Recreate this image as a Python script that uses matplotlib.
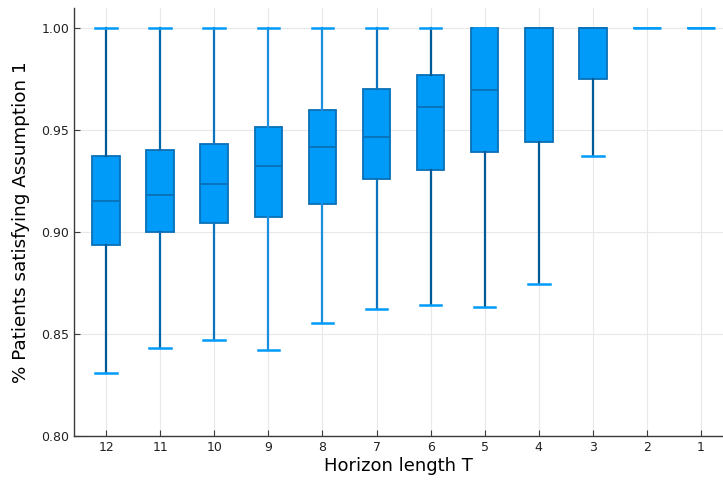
import numpy as np
import matplotlib
matplotlib.use("Agg")
import matplotlib.pyplot as plt

## Box statistics (horizon length T = 12 ... 1)
horizons = ['12', '11', '10', '9', '8', '7', '6', '5', '4', '3', '2', '1']
whisk_lo = [0.831, 0.8433, 0.8472, 0.8423, 0.8555, 0.8624, 0.8644, 0.8632, 0.8747, 0.9374, 1.0, 1.0]
q1 = [0.8935, 0.8999, 0.9044, 0.9074, 0.9136, 0.9261, 0.9302, 0.9392, 0.9441, 0.975, 1.0, 1.0]
med = [0.9153, 0.9181, 0.9235, 0.9325, 0.9415, 0.9466, 0.9613, 0.9696, 1.0, 1.0, 1.0, 1.0]
q3 = [0.9374, 0.9402, 0.9431, 0.9513, 0.960, 0.9701, 0.9771, 1.0, 1.0, 1.0, 1.0, 1.0]
whisk_hi = [1.0] * 12

fill = '#009af9'
edge = '#0b6fb6'
whisker_cols = ['#005a96', '#0068ac', '#0b74bd', '#1a8fe0', '#1a8fe0', '#0b74bd',
                '#005a96', '#005a96', '#005a96', '#005a96', fill, fill]

stats = []
for i in range(len(horizons)):
    stats.append(dict(whislo=whisk_lo[i], q1=q1[i], med=med[i], q3=q3[i],
                      whishi=whisk_hi[i], label=horizons[i]))

fig = plt.figure(figsize=(7.23, 4.82), dpi=100)
ax = fig.add_axes([0.1024, 0.0954, 0.8976, 0.888])

pos = np.arange(1, len(horizons) + 1)
bp = ax.bxp(stats, positions=pos, widths=0.51, patch_artist=True, showfliers=False,
            boxprops=dict(facecolor=fill, edgecolor=edge, linewidth=1.3),
            medianprops=dict(color=edge, linewidth=1.3),
            whiskerprops=dict(linewidth=1.6),
            capprops=dict(color=fill, linewidth=1.8), capwidths=0.4, zorder=3)

for i, box in enumerate(bp['boxes']):
    if q1[i] == q3[i]:
        box.set_edgecolor(fill)
        box.set_linewidth(1.8)
        bp['medians'][i].set_color(fill)
        bp['caps'][2 * i].set_visible(False)
        bp['caps'][2 * i + 1].set_visible(False)
for j, w in enumerate(bp['whiskers']):
    w.set_color(whisker_cols[j // 2])

ax.set_xlim(0.407, 12.407)
ax.set_ylim(0.8, 1.0098)
ax.set_yticks([0.80, 0.85, 0.90, 0.95, 1.00])
ax.set_yticklabels(['0.80', '0.85', '0.90', '0.95', '1.00'])
ax.set_xticks(pos)
ax.set_xticklabels(horizons)

ax.grid(True, color='#e8e8e8', linewidth=0.8, zorder=0)
ax.set_axisbelow(True)
for s in ['top', 'right']:
    ax.spines[s].set_visible(False)
for s in ['left', 'bottom']:
    ax.spines[s].set_color('#3a3a3a')
    ax.spines[s].set_linewidth(1.0)
ax.tick_params(direction='in', length=4, width=0.8, color='#3a3a3a',
               labelsize=9, labelcolor='#222222')

ax.set_xlabel('Horizon length T', fontsize=13, labelpad=2)
ax.set_ylabel('% Patients satisfying Assumption 1', fontsize=13.2, labelpad=8)

fig.savefig('out.png', dpi=100)
